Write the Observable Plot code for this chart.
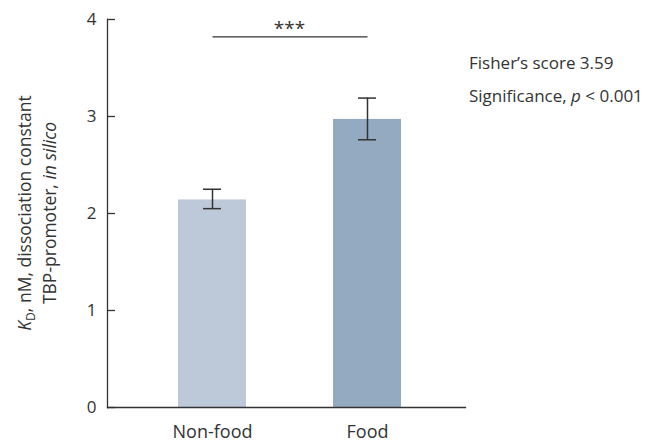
<!DOCTYPE html>
<html>
<head>
<meta charset="utf-8">
<script src="https://cdn.jsdelivr.net/npm/d3@7"></script>
<script src="https://cdn.jsdelivr.net/npm/@observablehq/plot@0.6"></script>
<style>
  html, body { margin: 0; padding: 0; background: #fff; }
  #chart { width: 654px; height: 444px; }
</style>
</head>
<body>
<div id="chart"></div>
<script>
// ---- data ----
const categories = ["Non-food", "Food"];
const means = [2.14, 2.97];
const errLow = [2.05, 2.76];
const errHigh = [2.25, 3.19];
const barColors = ["#bdc8d9", "#94aac1"];
const yTicks = [0, 1, 2, 3, 4];
const sigLineY = 3.82;
const sigStarsY = 3.93;
const sigStars = "***";
const fisherScore = "3.59";
const pText = "0.001";

const data = categories.map((c, i) => ({cat: c, mean: means[i], lo: errLow[i], hi: errHigh[i]}));

const W = 654, H = 444;
const mL = 107, mR = 189, mT = 19, mB = 37;
const frameW = W - mL - mR;
const ink = "#333";
const font = "Open Sans";

const plot = Plot.plot({
  width: W, height: H,
  marginLeft: mL, marginRight: mR, marginTop: mT, marginBottom: mB,
  style: {fontFamily: font, fontSize: "16px", color: ink, background: "#fff", overflow: "visible"},
  x: {domain: categories, paddingInner: 0.564, paddingOuter: 0.43, insetLeft: 3, insetRight: -3, label: null},
  y: {domain: [0, 4], ticks: yTicks, label: null},
  color: {domain: categories, range: barColors},
  marks: [
    Plot.barY(data, {x: "cat", y: "mean", fill: "cat"}),
    Plot.ruleX(data, {x: "cat", y1: "lo", y2: "hi", stroke: ink, strokeWidth: 1.5}),
    Plot.tickY(data, {x: "cat", y: "lo", stroke: ink, strokeWidth: 1.5, insetLeft: 25, insetRight: 25}),
    Plot.tickY(data, {x: "cat", y: "hi", stroke: ink, strokeWidth: 1.5, insetLeft: 25, insetRight: 25}),
    Plot.frame({anchor: "left", stroke: ink, strokeWidth: 1.3}),
    Plot.frame({anchor: "bottom", stroke: ink, strokeWidth: 1.3}),
    Plot.tickY(yTicks, {y: d => d, stroke: ink, strokeWidth: 1.3, insetRight: frameW - 8}),
    Plot.axisY({ticks: yTicks, tickSize: 0, tickPadding: 11, fontSize: 17, tickFormat: d => String(d)}),
    Plot.axisX({tickSize: 0, tickPadding: 18, fontSize: 18}),
    Plot.link([sigLineY], {x1: () => categories[0], x2: () => categories[1], y1: d => d, y2: d => d, stroke: ink, strokeWidth: 1.3}),
    Plot.text([sigStars], {y: () => sigStarsY, text: d => d, dx: 3, dy: 3, fontSize: 19})
  ]
});

document.getElementById("chart").appendChild(plot);

const svg = d3.select(plot);
const cy = (mT + (H - mB)) / 2;

// y-axis label, two rotated lines
const l1 = svg.append("text")
  .attr("transform", `translate(31,${cy}) rotate(-90)`)
  .attr("text-anchor", "middle")
  .attr("fill", ink).attr("font-family", font).attr("font-size", 17.5);
l1.append("tspan").attr("font-style", "italic").text("K");
l1.append("tspan").attr("font-size", 12).attr("dy", 4).text("D");
l1.append("tspan").attr("dy", -4).text(", nM, dissociation constant");

const l2 = svg.append("text")
  .attr("transform", `translate(56,${cy}) rotate(-90)`)
  .attr("text-anchor", "middle")
  .attr("fill", ink).attr("font-family", font).attr("font-size", 17.5);
l2.append("tspan").text("TBP-promoter, ");
l2.append("tspan").attr("font-style", "italic").text("in silico");

// right-side annotation
svg.append("text").attr("x", 469).attr("y", 69)
  .attr("text-anchor", "start")
  .attr("fill", ink).attr("font-family", font).attr("font-size", 17)
  .text(`Fisher\u2019s score ${fisherScore}`);
const a2 = svg.append("text").attr("x", 469).attr("y", 102)
  .attr("text-anchor", "start")
  .attr("fill", ink).attr("font-family", font).attr("font-size", 17);
a2.append("tspan").text("Significance, ");
a2.append("tspan").attr("font-style", "italic").text("p");
a2.append("tspan").text(` < ${pText}`);
</script>
</body>
</html>
